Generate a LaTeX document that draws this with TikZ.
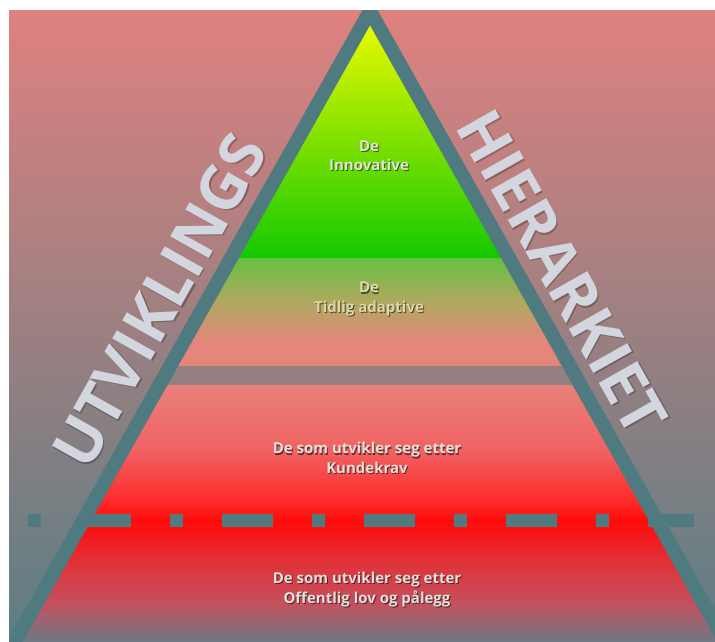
\documentclass[tikz,border=0pt]{standalone}
\usepackage{fontspec}
\newfontfamily\labelfont{Open Sans}
\newfontfamily\bigfont{Open Sans}
\definecolor{bgtop}{HTML}{DF817F}
\definecolor{bgbot}{HTML}{5B7E84}
\definecolor{frame}{HTML}{4F7B80}
\definecolor{yel}{HTML}{FFFF00}
\definecolor{grn}{HTML}{14C800}
\definecolor{lgrn}{HTML}{66C040}
\definecolor{olive}{HTML}{B0A860}
\definecolor{salmon}{HTML}{E5867B}
\definecolor{barcol}{HTML}{967F80}
\definecolor{red1}{HTML}{E88079}
\definecolor{red2}{HTML}{F06262}
\definecolor{red3}{HTML}{FF2C2C}
\definecolor{red4}{HTML}{FF0A0A}
\definecolor{red5}{HTML}{E23036}
\definecolor{red6}{HTML}{C25260}
\definecolor{red7}{HTML}{6C7A84}
\definecolor{txtlight}{HTML}{E2E2DC}
\definecolor{txtyel}{HTML}{DCD8A8}
\definecolor{bigtxt}{HTML}{D3D6DE}
\begin{document}
\begin{tikzpicture}[x=1pt,y=-1pt,
  lbl/.style={align=center,font=\labelfont\bfseries\fontsize{15}{19.5}\selectfont,inner sep=0pt},
  lblshadow/.style={lbl,text=black,text opacity=0.55},
  bigword/.style={font=\bigfont\bfseries\fontsize{62}{62}\selectfont,text=bigtxt,inner sep=0pt,anchor=base},
  bigshadow/.style={bigword,text=black,text opacity=0.25},
  dashline/.style={draw=frame,line width=13pt,line cap=butt,dash pattern=on 13pt off 39pt on 51pt off 39pt},
  framestyle/.style={draw=frame,line width=14pt,line join=miter}]
\useasboundingbox (0,0) rectangle (715,641);

% background panel
\shade[top color=bgtop,bottom color=bgbot] (9,10) rectangle (715,641);

\begin{scope}
  \clip (9,10) rectangle (715,641);
  % pyramid corners
  \coordinate (apex) at (370,11);
  \coordinate (bl) at (4,661);
  \coordinate (br) at (736,661);

  % coloured bands inside the pyramid
  \begin{scope}
    \clip (apex) -- (bl) -- (br) -- cycle;
    \shade[top color=yel,bottom color=grn] (0,0) rectangle (715,258);
    \shade[top color=lgrn,bottom color=olive] (0,258) rectangle (715,302);
    \shade[top color=olive,bottom color=salmon] (0,302) rectangle (715,342);
    \fill[salmon] (0,341) rectangle (715,367);
    \fill[barcol] (0,366) rectangle (715,385);
    \shade[top color=red1,bottom color=red2] (0,385) rectangle (715,450);
    \shade[top color=red2,bottom color=red3] (0,450) rectangle (715,500);
    \shade[top color=red3,bottom color=red4] (0,500) rectangle (715,521);
    \shade[top color=red4,bottom color=red5] (0,520) rectangle (715,560);
    \shade[top color=red5,bottom color=red6] (0,560) rectangle (715,605);
    \shade[top color=red6,bottom color=red7] (0,605) rectangle (715,642);
  \end{scope}

  % pyramid outline
  \draw[framestyle] (apex) -- (bl) -- (br) -- cycle;
\end{scope}

% dashed boundary line
\coordinate (dl) at (28,520.5);
\coordinate (dr) at (694,520.5);
\draw[dashline] (dl) -- (dr);

% side titles
\node[bigshadow,rotate=60.6] (lefts) at (180.5,313) {UTVIKLINGS};
\node[bigword,rotate=60.6] (leftw) at (179,311.5) {UTVIKLINGS};
\node[bigshadow,rotate=-60.6] (rights) at (544.5,284.5) {HIERARKIET};
\node[bigword,rotate=-60.6] (rightw) at (543,283) {HIERARKIET};

% level labels
\node[lblshadow] (l1s) at (370,156.8) {De\\Innovative};
\node[lbl,text=txtlight] (l1) at (369,155.5) {De\\Innovative};
\node[lblshadow] (l2s) at (370,300.3) {De\\Tidlig adaptive};
\node[lbl,text=txtyel] (l2) at (369,299) {De\\Tidlig adaptive};
\node[lblshadow] (l3s) at (368,459.3) {De som utvikler seg etter\\Kundekrav};
\node[lbl,text=txtlight] (l3) at (367,458) {De som utvikler seg etter\\Kundekrav};
\node[lblshadow] (l4s) at (368,590.8) {De som utvikler seg etter\\Offentlig lov og pålegg};
\node[lbl,text=txtlight] (l4) at (367,589.5) {De som utvikler seg etter\\Offentlig lov og pålegg};
\end{tikzpicture}
\end{document}
